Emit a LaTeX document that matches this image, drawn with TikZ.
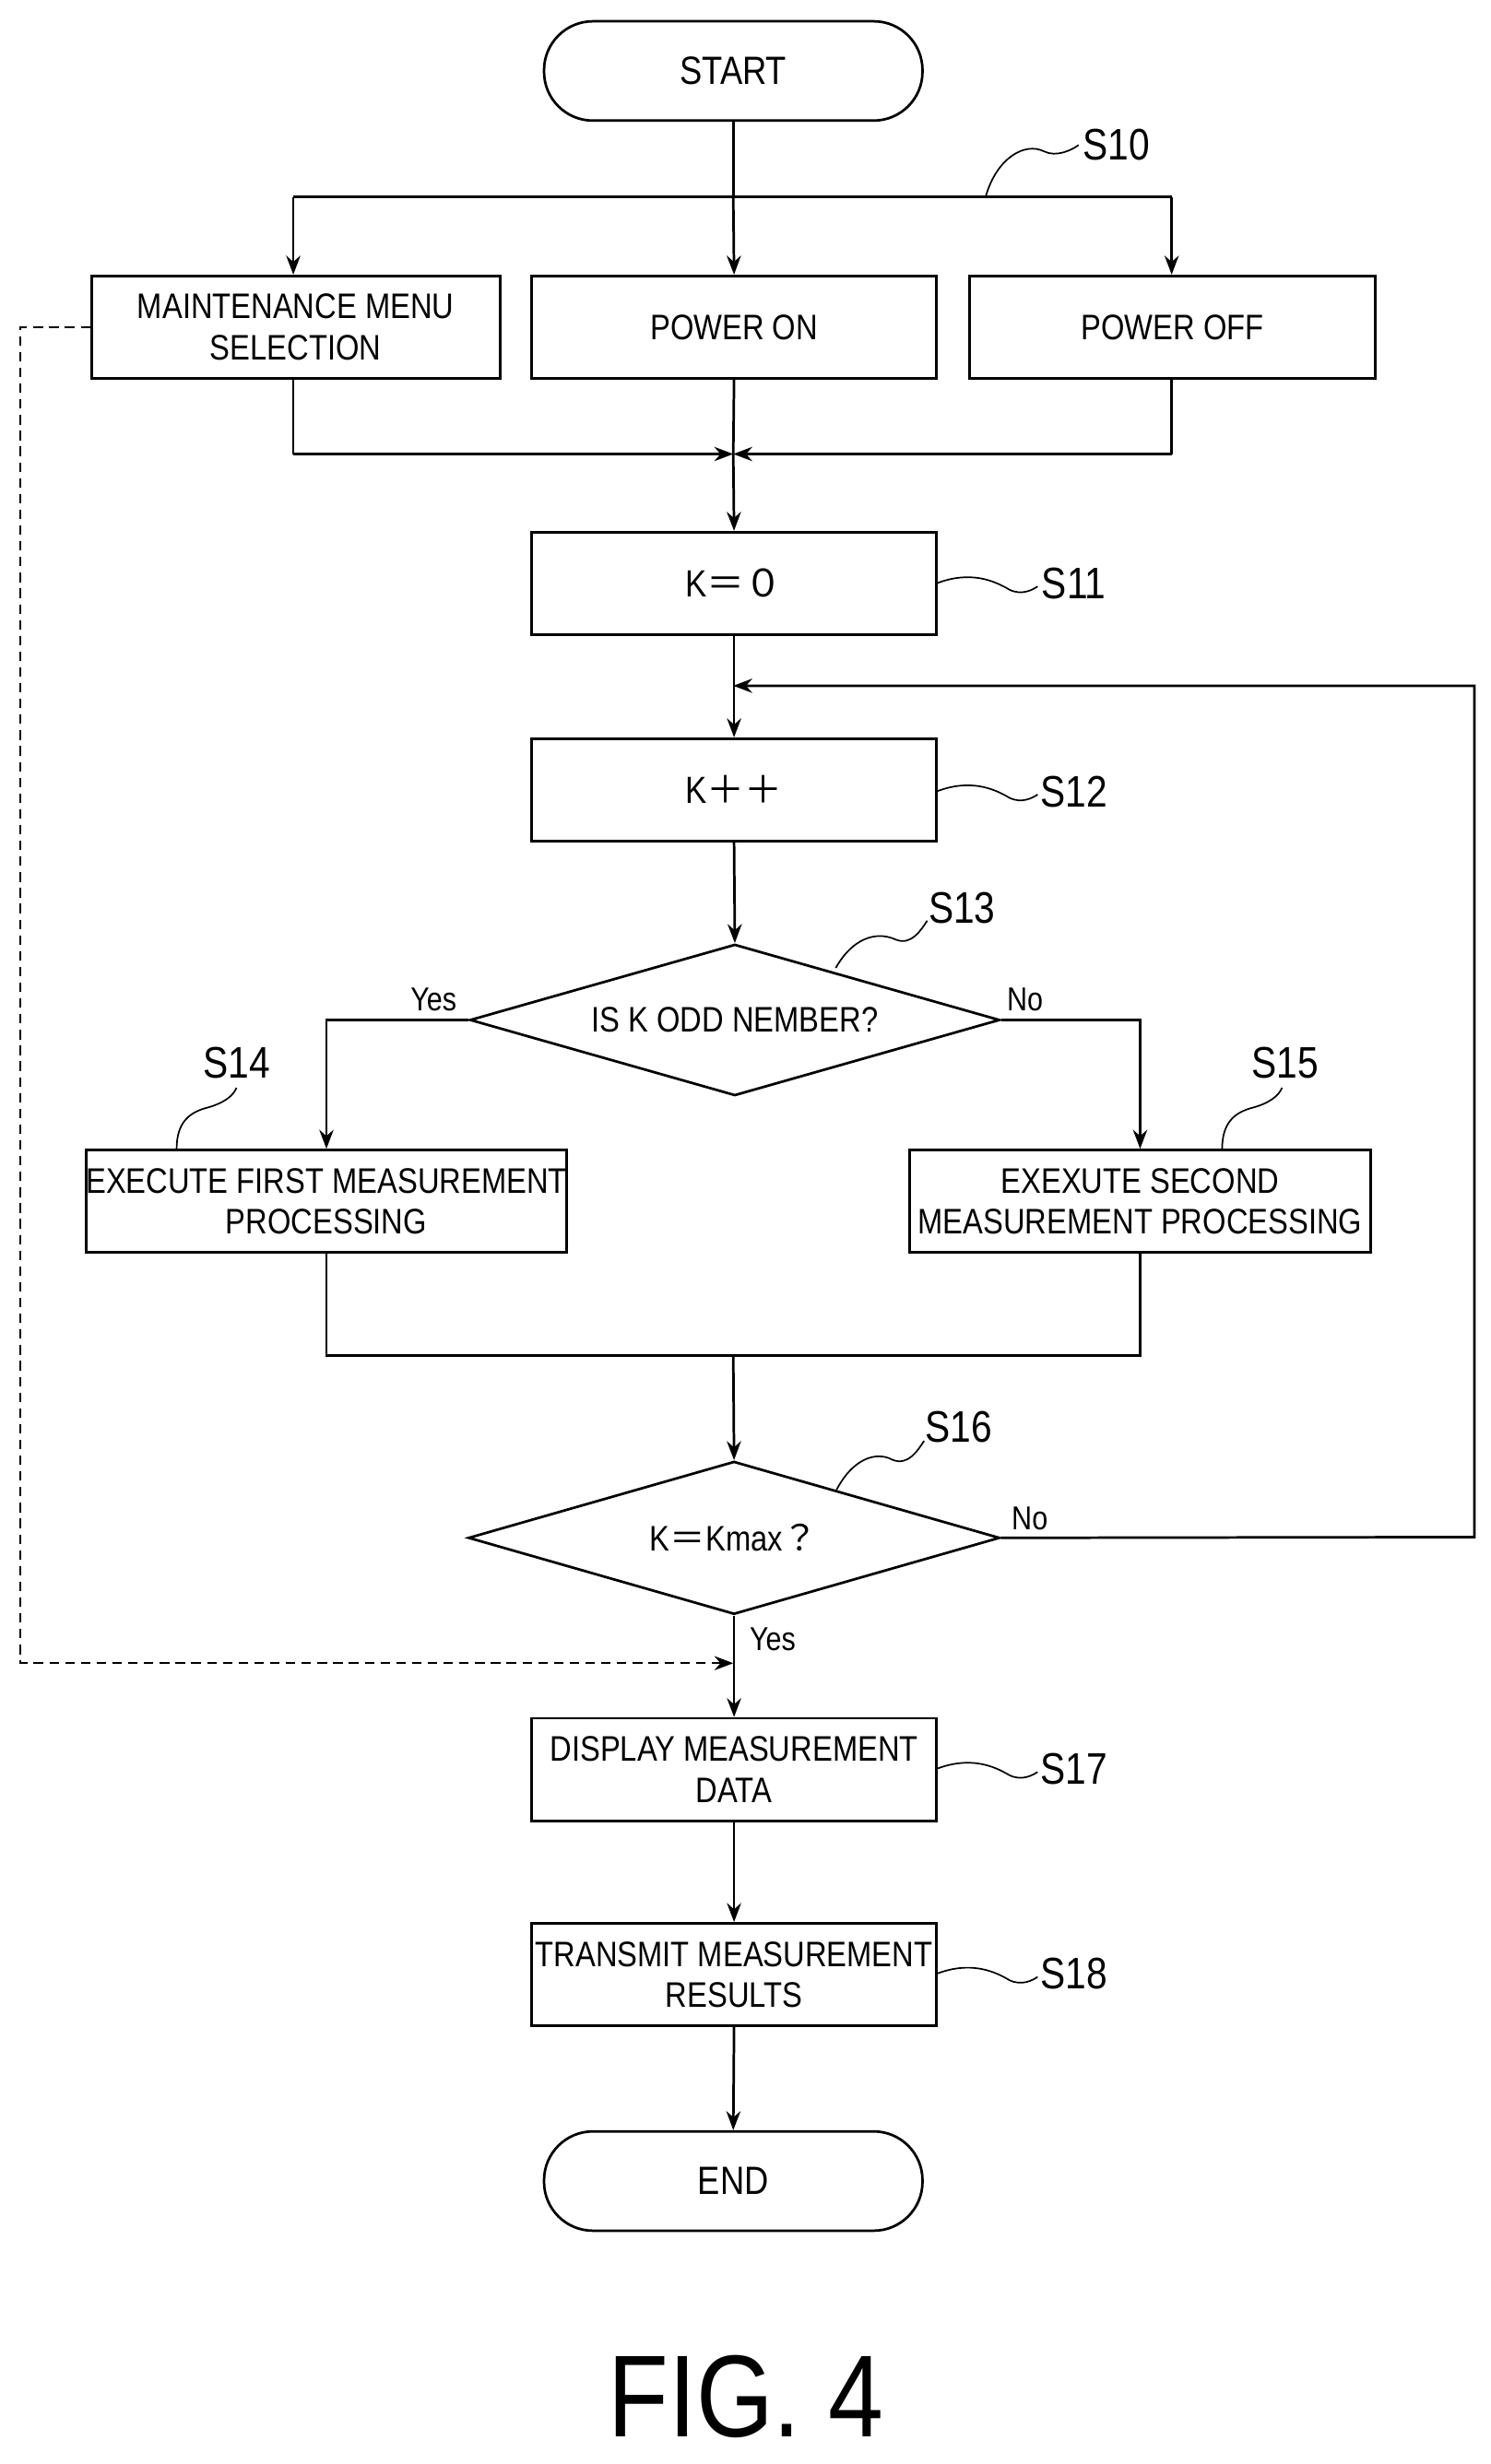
\documentclass[tikz,border=0pt]{standalone}
\usepackage{fontspec}
\setmainfont{Liberation Sans}[FakeStretch=0.85]
\newfontfamily\cjk{Noto Sans CJK JP}
\usetikzlibrary{arrows.meta,shapes.geometric}
\begin{document}
\begin{tikzpicture}[x=1pt,y=-1pt,line width=1.6pt,
  box/.style={draw,minimum width=257pt,minimum height=65pt,align=center,font=\fontsize{22.5}{26}\selectfont,inner sep=0pt},
  term/.style={draw,rounded corners=31pt,minimum width=240pt,minimum height=63pt,font=\fontsize{25}{28}\selectfont},
  dia/.style={draw,diamond,aspect=3.5,inner sep=0pt,font=\fontsize{22.5}{26}\selectfont},
  lab/.style={font=\fontsize{28}{30}\selectfont},
  yn/.style={font=\fontsize{21}{24}\selectfont},
  arr/.style={-{Stealth[length=12pt,width=9pt]}},
  sq/.style={line width=1pt}]
\useasboundingbox (0,0) rectangle (945,1563);
\node[term] (start) at (465,45) {START};
\node[box,minimum width=259pt] (mm) at (187.5,207.5) {MAINTENANCE MENU\\SELECTION};
\node[box] (on) at (465.5,207.5) {POWER ON};
\node[box] (off) at (743.5,207.5) {POWER OFF};
\coordinate (sp) at (465,125);
\coordinate (mg) at (465,288);
\draw (start) -- (sp);
\draw (186,125) -- (743,125);
\draw[arr] (186,125) -- (mm.north -| 186,0);
\draw[arr] (sp) -- (on.north);
\draw[arr] (743,125) -- (off.north -| 743,0);
\draw (mm.south -| 186,0) -- (186,288);
\draw[arr] (186,288) -- (mg);
\draw (off.south -| 743,0) -- (743,288);
\draw[arr] (743,288) -- (mg);
\draw (on.south) -- (mg);
\node[box,font=\fontsize{24}{26}\selectfont] (k0) at (465.5,370) {K{\cjk ＝０}};
\draw[arr] (mg) -- (k0.north);
\node[box,font=\fontsize{24}{26}\selectfont] (kpp) at (465.5,501) {K{\cjk ＋＋}};
\coordinate (lp) at (465,435);
\draw[arr] (k0.south) -- (kpp.north);
\node[dia,minimum width=336pt,minimum height=96pt] (d1) at (466,647) {IS K ODD NEMBER?};
\draw[arr] (kpp.south) -- (d1.north);
\node[box,minimum width=292pt] (s14) at (207,762) {EXECUTE FIRST MEASUREMENT\\PROCESSING};
\node[box,minimum width=292pt] (s15) at (723,762) {EXEXUTE SECOND\\MEASUREMENT PROCESSING};
\draw[arr] (d1.west) -| (s14.north);
\draw[arr] (d1.east) -| (s15.north);
\node[yn] at (275,634) {Yes};
\node[yn] at (650,634) {No};
\node[dia,minimum width=337pt,minimum height=97pt] (d2) at (465.5,975.5) {K{\cjk ＝}Kmax{\cjk ？}};
\coordinate (m2) at (465,860);
\draw (s14.south) |- (m2);
\draw (s15.south) |- (m2);
\draw[arr] (m2) -- (d2.north);
\draw[arr] (d2.east) -- (935,975) -- (935,435) -- (lp);
\node[yn] at (653,963) {No};
\node[yn] at (490,1040) {Yes};
\node[box] (s17) at (465.5,1122.5) {DISPLAY MEASUREMENT\\DATA};
\node[box] (s18) at (465.5,1252.5) {TRANSMIT MEASUREMENT\\RESULTS};
\node[term] (end) at (465,1383.5) {END};
\draw[arr] (d2.south) -- (s17.north);
\draw[arr] (s17.south) -- (s18.north);
\draw[arr] (s18.south) -- (end.north);
\draw[dash pattern=on 6pt off 4pt,arr,line width=1.3pt] (mm.west) -- (13,207.5) -- (13,1055) -- (465,1055);
% labels
\node[lab] (l10) at (708,92) {S10};
\draw[sq] (625,125) .. controls (632,100) and (650,90) .. (662,96) .. controls (670,100) and (680,95) .. (684,92);
\node[lab] (l11) at (681,370) {S11};
\draw[sq] (594,370) .. controls (615,362) and (630,368) .. (640,374) .. controls (648,378) and (655,374) .. (658,372);
\node[lab] (l12) at (681,502) {S12};
\draw[sq] (594,502) .. controls (615,494) and (630,500) .. (640,506) .. controls (648,510) and (655,506) .. (658,504);
\node[lab] (l13) at (610,576) {S13};
\draw[sq] (530,614) .. controls (540,596) and (555,590) .. (568,596) .. controls (578,600) and (584,590) .. (588,584);
\node[lab] (l14) at (150,674) {S14};
\draw[sq] (112,729) .. controls (112,712) and (120,706) .. (130,703) .. controls (142,700) and (148,695) .. (150,690);
\node[lab] (l15) at (815,674) {S15};
\draw[sq] (775,729) .. controls (775,712) and (783,706) .. (793,703) .. controls (805,700) and (811,695) .. (813,690);
\node[lab] (l16) at (608,905) {S16};
\draw[sq] (530,946) .. controls (540,926) and (555,920) .. (566,926) .. controls (576,930) and (582,920) .. (586,914);
\node[lab] (l17) at (681,1122) {S17};
\draw[sq] (594,1122) .. controls (615,1114) and (630,1120) .. (640,1126) .. controls (648,1130) and (655,1126) .. (658,1124);
\node[lab] (l18) at (681,1252) {S18};
\draw[sq] (594,1252) .. controls (615,1244) and (630,1250) .. (640,1256) .. controls (648,1260) and (655,1256) .. (658,1254);
\node[font=\fontsize{74}{76}\selectfont] (fig) at (473,1520) {FIG. 4};
\end{tikzpicture}
\end{document}
